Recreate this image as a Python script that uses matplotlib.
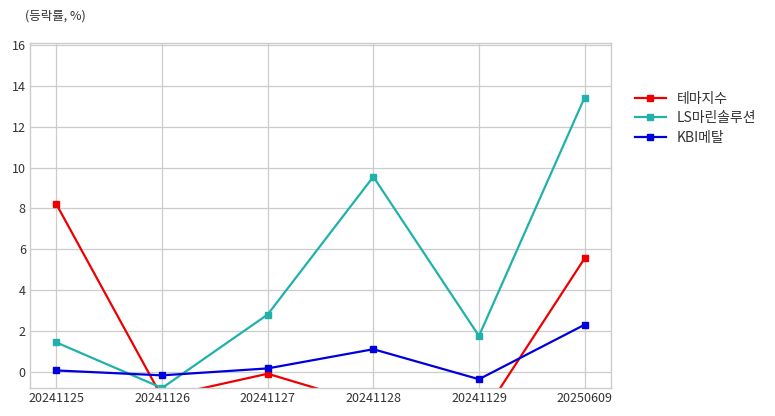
import matplotlib
matplotlib.use("Agg")
import matplotlib.pyplot as plt

plt.rcParams['font.family'] = ['Noto Sans CJK KR', 'DejaVu Sans']

dates = ["20241125", "20241126", "20241127", "20241128", "20241129", "20250609"]
theme_index = [8.2, -1.25, -0.1, -1.65, -2.4, 5.55]
ls_marine = [1.43, -0.8, 2.8, 9.55, 1.75, 13.43]
kbi_metal = [0.06, -0.18, 0.16, 1.1, -0.37, 2.3]

series_names = ["테마지수", "LS마린솔루션", "KBI메탈"]
colors = ["#ee0000", "#20b2aa", "#0000dd"]

fig = plt.figure(figsize=(7.75, 4.16), dpi=100)
ax = fig.add_axes([0.0387, 0.0673, 0.7497, 0.8293])

x = list(range(len(dates)))
for vals, name, c in zip([theme_index, ls_marine, kbi_metal], series_names, colors):
    ax.plot(x, vals, color=c, marker='s', markersize=4.5, linewidth=1.6, label=name)

ax.set_xlim(-0.25, 5.25)
ax.set_ylim(-0.8, 16.1)
ax.set_yticks(range(0, 17, 2))
ax.set_xticks(x)
ax.set_xticklabels(dates)
ax.grid(True, color='#cccccc', linewidth=0.9)
ax.set_axisbelow(True)
for s in ax.spines.values():
    s.set_color('#cccccc')
    s.set_linewidth(1.0)
ax.tick_params(axis='both', length=0, labelsize=9, colors='#333333', pad=3)

fig.text(0.032, 0.962, "(등락률, %)", fontsize=9, color='#333333', va='center', ha='left')

leg = ax.legend(loc='upper left', bbox_to_anchor=(1.02, 0.895), frameon=False,
                fontsize=10, handlelength=2.2, labelspacing=0.4)
for t in leg.get_texts():
    t.set_color('#333333')

fig.savefig("out.png", dpi=100)
